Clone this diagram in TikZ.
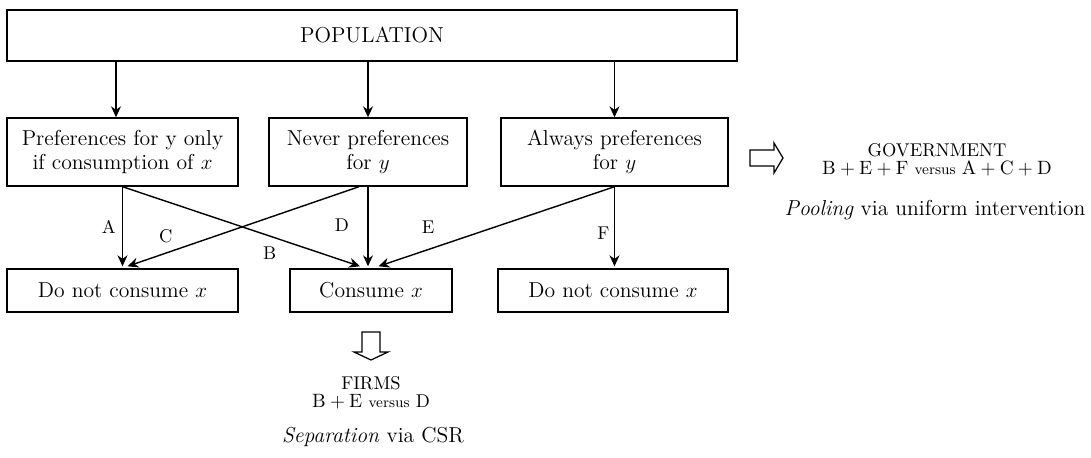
\documentclass[tikz,border=0pt]{standalone}
\usepackage{amsmath}
\usetikzlibrary{calc}
\usetikzlibrary{arrows.meta}

\begin{document}
\begin{tikzpicture}[
    box/.style={draw, line width=0.8pt, inner sep=0pt, align=center, font=\fontsize{12.3}{14}\selectfont},
    arr/.style={line width=0.8pt, -{Stealth[length=2.2mm, width=2mm]}},
    lab/.style={font=\fontsize{10.5}{12}\selectfont, inner sep=1.5pt},
    blockarrow/.style={draw, line width=0.7pt, line join=miter},
    ]
    \useasboundingbox (0, 0) rectangle (21.82, -9.14);

    \node[box, minimum width=14.6cm, minimum height=1.02cm] (pop) at (7.44, -0.71) {POPULATION};

    \node[box, minimum width=4.62cm, minimum height=1.36cm] (pref) at (2.45, -3.04) {Preferences for y only\\ if consumption of $x$};
    \node[box, minimum width=3.96cm, minimum height=1.36cm] (never) at (7.36, -3.04) {Never preferences\\ for $y$};
    \node[box, minimum width=4.54cm, minimum height=1.36cm] (always) at (12.29, -3.04) {Always preferences\\ for $y$};

    \node[box, minimum width=4.62cm, minimum height=0.86cm] (nocons1) at (2.45, -5.81) {Do not consume $x$};
    \node[box, minimum width=3.24cm, minimum height=0.86cm] (cons) at (7.42, -5.81) {Consume $x$};
    \node[box, minimum width=4.6cm, minimum height=0.86cm] (nocons2) at (12.26, -5.81) {Do not consume $x$};

    % from the population
    \draw[arr] ($(pop.south -| pref.north)+(-0.13, 0)$) -- ($(pref.north)+(-0.13, 0)$);
    \draw[arr] (pop.south -| never.north) -- (never.north);
    \draw[arr] (pop.south -| always.north) -- (always.north);

    % choices
    \draw[arr] (pref.south) -- ($(nocons1.north)+(0, 0.04)$) node[lab, pos=0.5, left=2pt] {A};
    \draw[arr] (pref.south) -- ($(cons.north)+(-0.22, 0.04)$) node[lab, pos=0.62, below=4pt] {B};
    \draw[arr] ($(never.south)+(-0.18, 0)$) -- ($(nocons1.north)+(0.1, 0.04)$) node[lab, pos=0.835, above=4pt] {C};
    \draw[arr] (never.south) -- ($(cons.north -| never.south)+(0, 0.04)$) node[lab, pos=0.48, left=9pt] {D};
    \draw[arr] (always.south) -- ($(cons.north)+(0.15, 0.04)$) node[lab, pos=0.79, above=7pt] {E};
    \draw[arr] (always.south) -- ($(nocons2.north -| always.south)+(0, 0.04)$) node[lab, pos=0.58, left=1pt] {F};

    % government
    \coordinate (govtail) at (15.0, -3.16);
    \draw[blockarrow] (govtail) ++(0, 0.16) -- ++(0.48, 0) -- ++(0, 0.14) -- ++(0.18, -0.30)
        -- ++(-0.18, -0.30) -- ++(0, 0.14) -- ++(-0.48, 0) -- cycle;
    \node[font=\fontsize{10.5}{10}\selectfont, align=center] (gov) at (18.74, -3.2)
        {GOVERNMENT\\ $\mathrm{B}+\mathrm{E}+\mathrm{F}$ {\fontsize{8.5}{8}\selectfont versus} $\mathrm{A}+\mathrm{C}+\mathrm{D}$};
    \node[font=\fontsize{12.3}{14}\selectfont] (pool) at (18.7, -4.2) {\textit{Pooling} via uniform intervention};

    % firms
    \coordinate (firmtop) at (7.42, -6.64);
    \draw[blockarrow] (firmtop) ++(-0.18, 0) -- ++(0, -0.4) -- ++(-0.16, 0) -- ++(0.34, -0.16)
        -- ++(0.34, 0.16) -- ++(-0.16, 0) -- ++(0, 0.4) -- cycle;
    \node[font=\fontsize{10.5}{10}\selectfont, align=center] (firms) at (7.42, -7.85)
        {FIRMS\\ $\mathrm{B}+\mathrm{E}$ {\fontsize{8.5}{8}\selectfont versus} D};
    \node[font=\fontsize{12.3}{14}\selectfont] (sep) at (7.46, -8.74) {\textit{Separation} via CSR};

\end{tikzpicture}
\end{document}
